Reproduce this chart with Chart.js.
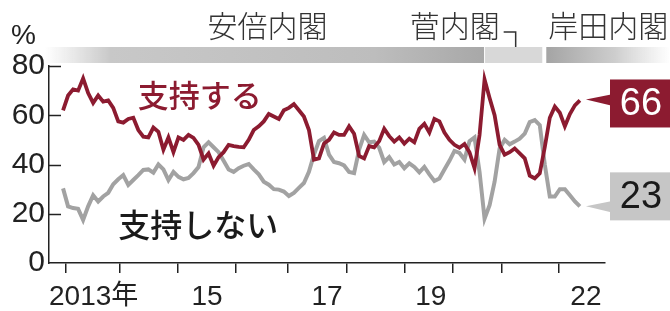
<!DOCTYPE html>
<html>
<head>
<meta charset="utf-8">
<script src="https://cdn.jsdelivr.net/npm/chart.js@4.4.1/dist/chart.umd.min.js"></script>
<style>
  html, body { margin: 0; padding: 0; background: #fff; }
</style>
</head>
<body>
<canvas id="chart" width="670" height="311"></canvas>
<script>
// poll values, roughly one per month from Dec 2012
const support = [
  62, 68, 70.5, 70, 75, 69, 65, 68, 65.5, 66,
  63, 57.5, 57, 58.5, 59, 54, 51.3, 51, 55, 53.3,
  46, 51, 45, 51, 50, 52, 50.8, 48, 42, 44.5,
  39.5, 43, 45, 48, 47.5, 47.2, 47, 50, 54, 55.5,
  57.5, 60.5, 59.5, 58.5, 62, 63, 64.5, 62, 59.5, 54,
  42, 42.5, 48.5, 50, 53, 52, 52, 55.5, 52.5, 43.5,
  42.5, 47.5, 47, 49.5, 54.5, 51.5, 49.3, 51, 48.5, 50.5,
  49, 54.5, 56.5, 53, 58.5, 57.5, 53, 50, 48, 46.8,
  48.3, 45, 38.5, 52, 74.5, 67, 60, 48, 44, 45,
  46.5, 44.5, 42.5, 35.5, 34.4, 36.4, 47, 59, 63.5, 61,
  55.5, 60.5, 64, 66
];
const nonSupport = [
  30.3, 23, 22.3, 22, 17.5, 23, 27.5, 25, 27, 28.5,
  32, 34, 35.7, 31.7, 33.7, 35.7, 37.8, 38, 36.7, 40,
  38, 33.7, 37, 35, 34, 34.5, 36.5, 39, 47, 49,
  47, 45, 41.5, 38, 37, 38.5, 39.5, 40.2, 38, 36,
  33, 31.8, 30, 29.8, 29, 27.2, 28.5, 30.5, 32.5, 37,
  44, 49.5, 50.8, 44, 41, 40.5, 39.6, 37, 36.5, 46,
  52, 49, 49.3, 46.8, 41, 43, 40, 41, 38.5, 40.5,
  39, 36.8, 39, 36, 33.3, 34.3, 38, 41.5, 45.5, 44.7,
  42, 49.5, 51, 37, 18, 23.5, 33, 46.5, 50, 48.2,
  49.3, 50.5, 52.5, 57.2, 58, 56, 40, 27, 27, 30,
  30, 27.5, 25, 23
];
const seriesNames = ['支持する', '支持しない'];

const yTicks = [0, 20, 40, 60, 80];
// year boundaries and year labels, in poll-index units
const yearTicks = [0.6, 11.2, 22.9, 34.5, 44.8, 56.6, 68.0, 77.7, 87.5, 98.8];
const yearLabels = ['2013年', '15', '17', '19', '22'];
const yearLabelPos = [6.1, 28.7, 52.6, 73.3, 104.2];

const cabinets = ['安倍内閣', '菅内閣', '岸田内閣'];
const cabinetStart = [-3.6, 84.1, 96.3];
const cabinetEnd = [83.9, 95.5, 121];

const RED = '#8c1b30';
const GRAY = '#a2a2a2';
const INK = '#222';
const NUM_FONT = '"Liberation Sans", Arial, sans-serif';
const JP_FONT = '"Noto Sans CJK JP", sans-serif';

const decor = {
  id: 'decor',
  afterDraw(chart) {
    const { ctx, scales: { x, y }, chartArea } = chart;
    ctx.save();

    // cabinet bands
    const bandTop = 47, bandH = 16;
    const b0 = x.getPixelForValue(cabinetStart[0]), b1 = x.getPixelForValue(cabinetEnd[0]);
    let g = ctx.createLinearGradient(b0, 0, b1, 0);
    g.addColorStop(0, 'rgba(205,205,205,0)');
    g.addColorStop(0.15, '#c8c8c8');
    g.addColorStop(0.75, '#bdbdbd');
    g.addColorStop(1, '#a8a8a8');
    ctx.fillStyle = g;
    ctx.fillRect(b0, bandTop, b1 - b0, bandH);

    const s0 = x.getPixelForValue(cabinetStart[1]), s1 = x.getPixelForValue(cabinetEnd[1]);
    ctx.fillStyle = '#d8d8d8';
    ctx.fillRect(s0, bandTop, s1 - s0, bandH);

    const k0 = x.getPixelForValue(cabinetStart[2]), k1 = x.getPixelForValue(cabinetEnd[2]);
    g = ctx.createLinearGradient(k0, 0, k1, 0);
    g.addColorStop(0, '#a4a4a4');
    g.addColorStop(0.55, '#cdcdcd');
    g.addColorStop(1, 'rgba(255,255,255,0.9)');
    ctx.fillStyle = g;
    ctx.fillRect(k0, bandTop, k1 - k0, bandH);

    // cabinet names
    ctx.fillStyle = '#333';
    ctx.font = '300 30px ' + JP_FONT;
    ctx.textBaseline = 'middle';
    ctx.textAlign = 'center';
    ctx.fillText(cabinets[0], (b0 + b1) / 2 + 3, 26);
    ctx.fillText(cabinets[2], (k0 + k1) / 2, 26);
    const sMid = (s0 + s1) / 2;
    ctx.textAlign = 'right';
    ctx.fillText(cabinets[1], sMid - 14, 26);
    ctx.strokeStyle = '#333';
    ctx.lineWidth = 1.5;
    ctx.beginPath();
    ctx.moveTo(sMid - 10, 32);
    ctx.lineTo(sMid + 2, 32);
    ctx.lineTo(sMid + 2, bandTop);
    ctx.stroke();

    // percent sign
    ctx.fillStyle = INK;
    ctx.font = '28px ' + NUM_FONT;
    ctx.textAlign = 'left';
    ctx.textBaseline = 'alphabetic';
    ctx.fillText('%', 11, 44);

    // inward y ticks
    ctx.strokeStyle = INK;
    ctx.lineWidth = 1.5;
    yTicks.slice(1).forEach(v => {
      const py = Math.round(y.getPixelForValue(v)) + 0.5;
      ctx.beginPath();
      ctx.moveTo(chartArea.left, py);
      ctx.lineTo(chartArea.left + 12, py);
      ctx.stroke();
    });

    // year labels
    ctx.fillStyle = INK;
    ctx.textAlign = 'center';
    ctx.textBaseline = 'alphabetic';
    yearLabels.forEach((t, i) => {
      const px = x.getPixelForValue(yearLabelPos[i]);
      if (t.endsWith('年')) {
        ctx.font = '28px ' + NUM_FONT;
        const num = t.slice(0, -1);
        const wNum = ctx.measureText(num).width;
        ctx.font = '27px ' + JP_FONT;
        const wJ = ctx.measureText('年').width;
        const left = px - (wNum + wJ) / 2;
        ctx.textAlign = 'left';
        ctx.font = '28px ' + NUM_FONT;
        ctx.fillText(num, left, 305);
        ctx.font = '27px ' + JP_FONT;
        ctx.fillText('年', left + wNum, 304);
        ctx.textAlign = 'center';
      } else {
        ctx.font = '28px ' + NUM_FONT;
        ctx.fillText(t, px, 305);
      }
    });

    // series names
    ctx.font = '500 31px ' + JP_FONT;
    ctx.textAlign = 'left';
    ctx.textBaseline = 'middle';
    ctx.fillStyle = RED;
    ctx.fillText(seriesNames[0], x.getPixelForValue(14.9), y.getPixelForValue(68.2));
    ctx.fillStyle = '#1a1a1a';
    ctx.font = '500 32px ' + JP_FONT;
    ctx.fillText(seriesNames[1], x.getPixelForValue(11), y.getPixelForValue(15.4));

    // end value boxes
    const ends = [
      { data: support, fill: RED, text: '#fff', dy: -21 },
      { data: nonSupport, fill: '#c6c6c6', text: '#1a1a1a', dy: -34 }
    ];
    const boxLeft = 610, boxW = 60, boxH = 48;
    ends.forEach((e, k) => {
      const last = e.data.length - 1;
      const px = x.getPixelForValue(last);
      const py = y.getPixelForValue(e.data[last]);
      const top = py + e.dy;
      ctx.fillStyle = e.fill;
      ctx.fillRect(boxLeft, top, boxW, boxH);
      ctx.beginPath();
      const baseY = k === 0 ? py : py + 1;
      ctx.moveTo(px + 6, baseY - 1);
      ctx.lineTo(boxLeft + 1, baseY - 6);
      ctx.lineTo(boxLeft + 1, baseY + 5);
      ctx.closePath();
      ctx.fill();
      ctx.fillStyle = e.text;
      ctx.font = '38px ' + NUM_FONT;
      ctx.textAlign = 'center';
      ctx.textBaseline = 'middle';
      ctx.fillText(String(Math.round(e.data[last])), boxLeft + boxW / 2 + 1, top + boxH / 2 + 1);
    });

    ctx.restore();
  }
};

new Chart(document.getElementById('chart'), {
  type: 'line',
  data: {
    datasets: [
      {
        label: seriesNames[0],
        data: support.map((v, i) => ({ x: i, y: v })),
        borderColor: RED,
        borderWidth: 3.8,
        pointRadius: 0,
        tension: 0
      },
      {
        label: seriesNames[1],
        data: nonSupport.map((v, i) => ({ x: i, y: v })),
        borderColor: GRAY,
        borderWidth: 4,
        pointRadius: 0,
        tension: 0
      }
    ]
  },
  options: {
    responsive: false,
    animation: false,
    layout: { padding: { left: 0, top: 66, right: 65, bottom: 0 } },
    plugins: {
      legend: { display: false },
      tooltip: { enabled: false }
    },
    scales: {
      x: {
        type: 'linear',
        min: -2.8,
        max: 108,
        afterBuildTicks: s => { s.ticks = yearTicks.map(v => ({ value: v })); },
        afterFit: s => { s.height = 48; },
        grid: { drawOnChartArea: false, drawTicks: true, tickLength: 10, color: INK, lineWidth: 1.5 },
        border: { color: INK, width: 1.5 },
        ticks: { callback: () => '', autoSkip: false, maxRotation: 0 }
      },
      y: {
        min: 0,
        max: 80,
        afterBuildTicks: s => { s.ticks = yTicks.map(v => ({ value: v })); },
        afterFit: s => { s.width = 49; },
        grid: { display: false, drawTicks: false },
        border: { color: INK, width: 1.5 },
        ticks: { padding: 4, color: INK, font: { family: NUM_FONT, size: 30 } }
      }
    }
  },
  plugins: [decor]
});
</script>
</body>
</html>
